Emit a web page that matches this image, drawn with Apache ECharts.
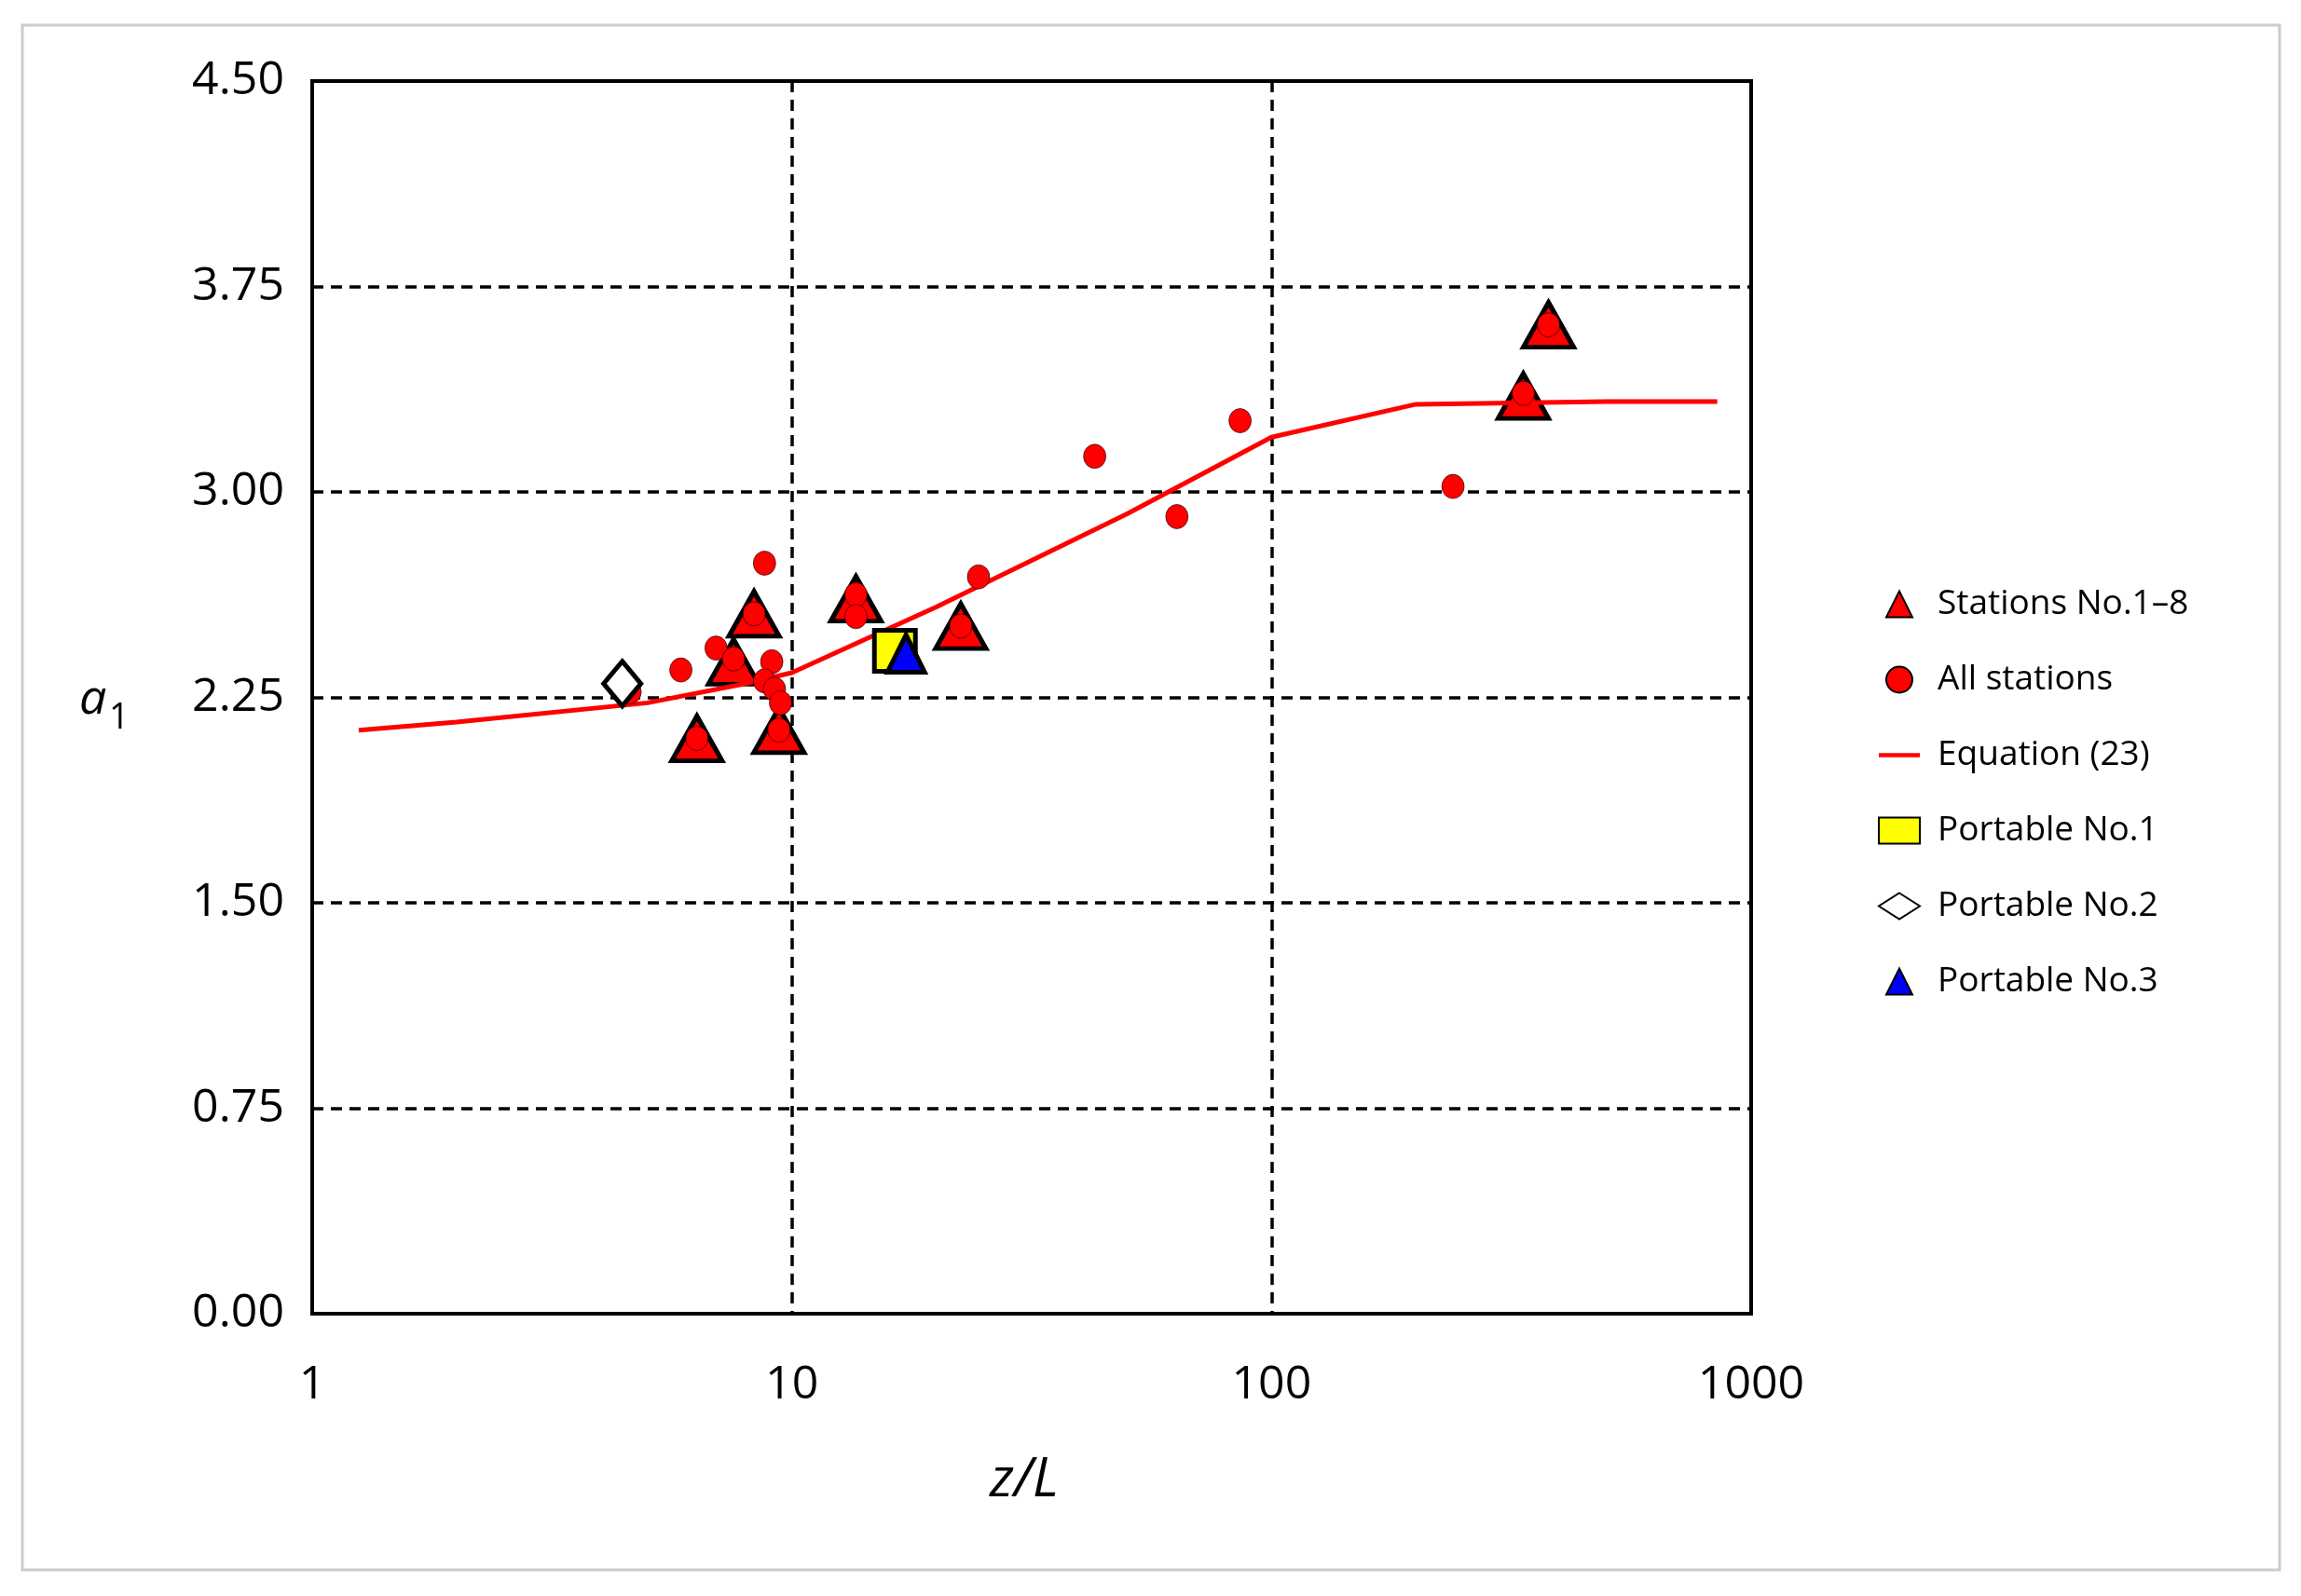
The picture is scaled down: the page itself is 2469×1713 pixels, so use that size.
<!DOCTYPE html><html><head><meta charset="utf-8"><script src="https://cdn.jsdelivr.net/npm/echarts@6/dist/echarts.min.js"></script>
<style>html,body{margin:0;background:#fff}#c{width:2469px;height:1713px}</style></head><body><div id="c"></div><script>
const stations=[[6.34,2.10],[7.56,2.38],[8.34,2.555],[9.4,2.13],[13.6,2.61],[22.5,2.51],[335,3.35],[378,3.61]];
const allStations=[[4.6,2.27],[5.87,2.35],[6.95,2.43],[7.56,2.39],[8.34,2.555],[8.77,2.74],[9.08,2.38],[8.77,2.31],[9.2,2.28],[9.47,2.23],[6.34,2.10],[9.4,2.13],[13.6,2.625],[13.6,2.545],[22.5,2.51],[24.5,2.69],[42.8,3.13],[63.5,2.91],[86,3.26],[239,3.02],[335,3.36],[378,3.61]];
const equation=[[1.25,2.13],[2,2.16],[5,2.23],[8,2.30],[10,2.34],[20,2.58],[50,2.92],[100,3.2],[200,3.32],[500,3.33],[850,3.33]];
const portable1=[[16.4,2.42]];const portable2=[[4.43,2.30]];const portable3=[[17.3,2.41]];
const tri='path://M50 0 L100 100 L0 100 Z';
const ch=echarts.init(document.getElementById('c'));
const F='Open Sans';
ch.setOption({animation:false,
graphic:[{type:'rect',shape:{x:24,y:27,width:2422,height:1658},style:{fill:'none',stroke:'#ccc',lineWidth:3}},
{type:'text',left:85,top:725,style:{text:'a',font:'italic 52px "Open Sans"',fill:'#000'}},
{type:'text',left:117,top:752,style:{text:'1',font:'38px "Open Sans"',fill:'#000'}},
{type:'text',left:1062,top:1560,style:{text:'z/L',font:'italic 58px "Open Sans"',fill:'#000'}}],
grid:{left:335,right:590,top:87,bottom:303,show:true,borderColor:'#000',borderWidth:4},
xAxis:{type:'log',min:1,max:1000,logBase:10,axisLine:{lineStyle:{color:'#000',width:4}},axisTick:{show:false},
axisLabel:{color:'#000',fontSize:50,fontFamily:F,margin:52,formatter:v=>String(v)},splitLine:{lineStyle:{type:[12,8],color:'#000',width:3.5}},minorSplitLine:{show:false}},
yAxis:{type:'value',min:0,max:4.5,interval:0.75,axisLine:{lineStyle:{color:'#000',width:4}},axisTick:{show:false},
axisLabel:{color:'#000',fontSize:50,fontFamily:F,margin:30,formatter:v=>v.toFixed(2)},splitLine:{lineStyle:{type:[12,8],color:'#000',width:3.5}}},
legend:{orient:'vertical',left:2010,top:625,itemGap:44,itemWidth:44,itemHeight:28,textStyle:{fontSize:37,fontFamily:F,color:'#000',padding:[0,0,0,14]},
data:[{name:'Stations No.1–8',icon:tri},{name:'All stations',icon:'circle'},{name:'Equation (23)',icon:'path://M0 45 L100 45 L100 55 L0 55 Z'},{name:'Portable No.1',icon:'rect'},{name:'Portable No.2',icon:'diamond'},{name:'Portable No.3',icon:tri}]},
series:[
{name:'Stations No.1–8',type:'scatter',data:stations,symbol:tri,symbolSize:[54,48],itemStyle:{color:'#f00',borderColor:'#000',borderWidth:5,opacity:1},z:3},
{name:'Equation (23)',type:'line',data:equation,symbol:'none',lineStyle:{color:'#f00',width:5},itemStyle:{color:'#f00'},z:4},
{name:'All stations',type:'scatter',data:allStations,symbol:'circle',symbolSize:[24,26],itemStyle:{color:'#f00',borderColor:'#000',borderWidth:0.6,opacity:1},z:5},
{name:'Portable No.1',type:'scatter',data:portable1,symbol:'rect',symbolSize:44,itemStyle:{color:'#ff0',borderColor:'#000',borderWidth:5,opacity:1},z:6},
{name:'Portable No.2',type:'scatter',data:portable2,symbol:'diamond',symbolSize:[40,48],itemStyle:{color:'#fff',borderColor:'#000',borderWidth:5,opacity:1},z:6},
{name:'Portable No.3',type:'scatter',data:portable3,symbol:tri,symbolSize:[40,40],itemStyle:{color:'#00f',borderColor:'#000',borderWidth:5,opacity:1},z:7}
]});
</script></body></html>
